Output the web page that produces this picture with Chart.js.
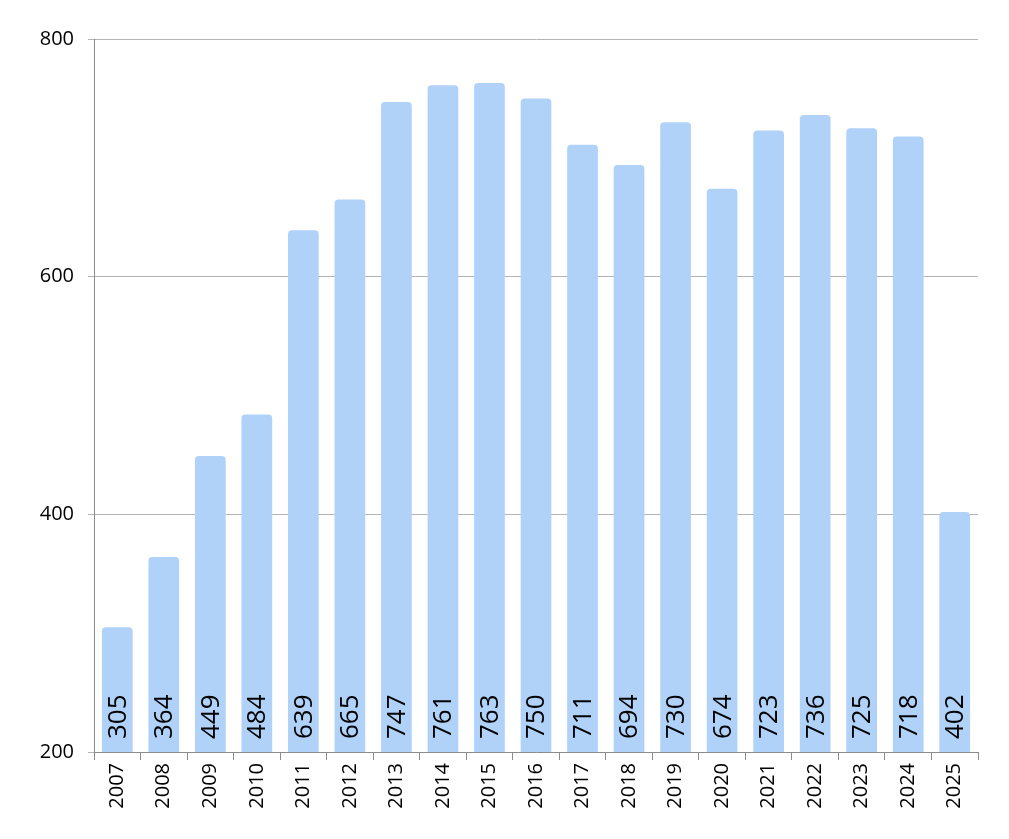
<!DOCTYPE html>
<html>
<head>
<meta charset="utf-8">
<script src="https://cdn.jsdelivr.net/npm/chart.js@4/dist/chart.umd.min.js"></script>
<style>
  html, body { margin: 0; padding: 0; background: #fff; }
  #wrap { width: 1009px; height: 839px; }
</style>
</head>
<body>
<div id="wrap"><canvas id="c" width="1009" height="839"></canvas></div>
<script>
const categories = ["2007","2008","2009","2010","2011","2012","2013","2014","2015","2016","2017","2018","2019","2020","2021","2022","2023","2024","2025"];
const values = [305,364,449,484,639,665,747,761,763,750,711,694,730,674,723,736,725,718,402];
const yTicks = [200,400,600,800];

const FONT = "'Open Sans', sans-serif";

const valueLabels = {
  id: 'valueLabels',
  afterDatasetsDraw(chart) {
    const ctx = chart.ctx;
    const meta = chart.getDatasetMeta(0);
    const base = chart.scales.y.bottom;
    ctx.save();
    ctx.fillStyle = '#000';
    ctx.font = "26px " + FONT;
    ctx.textAlign = 'left';
    ctx.textBaseline = 'middle';
    meta.data.forEach((bar, i) => {
      ctx.save();
      ctx.translate(bar.x + 1, base - 13);
      ctx.rotate(-Math.PI / 2);
      ctx.fillText(String(values[i]), 0, 0);
      ctx.restore();
    });
    ctx.restore();
  }
};

new Chart(document.getElementById('c'), {
  type: 'bar',
  data: {
    labels: categories,
    datasets: [{
      data: values,
      backgroundColor: '#b0d1f8',
      borderColor: '#b0d1f8',
      borderWidth: 0,
      borderRadius: { topLeft: 4, topRight: 4, bottomLeft: 0, bottomRight: 0 },
      borderSkipped: 'bottom',
      barPercentage: 0.66,
      categoryPercentage: 1.0
    }]
  },
  options: {
    responsive: false,
    animation: false,
    devicePixelRatio: 1,
    layout: { padding: { left: 0, right: 31, top: 39, bottom: 0 } },
    plugins: { legend: { display: false }, tooltip: { enabled: false } },
    scales: {
      y: {
        min: 200, max: 800,
        afterBuildTicks(axis) { axis.ticks = yTicks.map(v => ({ value: v })); },
        afterFit(axis) { axis.width = 94; },
        grid: { color: '#b4b4b4', lineWidth: 1, tickLength: 6, drawTicks: true },
        border: { color: '#8c8c8c', width: 1 },
        ticks: { color: '#000', padding: 14, font: { family: FONT, size: 20 } }
      },
      x: {
        afterFit(axis) { axis.height = 87; },
        grid: { display: true, drawOnChartArea: false, offset: true, color: '#8c8c8c', tickLength: 8 },
        border: { color: '#8c8c8c', width: 1 },
        ticks: { color: '#000', minRotation: 90, maxRotation: 90, padding: 3, font: { family: FONT, size: 20 } }
      }
    }
  },
  plugins: [valueLabels]
});
</script>
</body>
</html>
